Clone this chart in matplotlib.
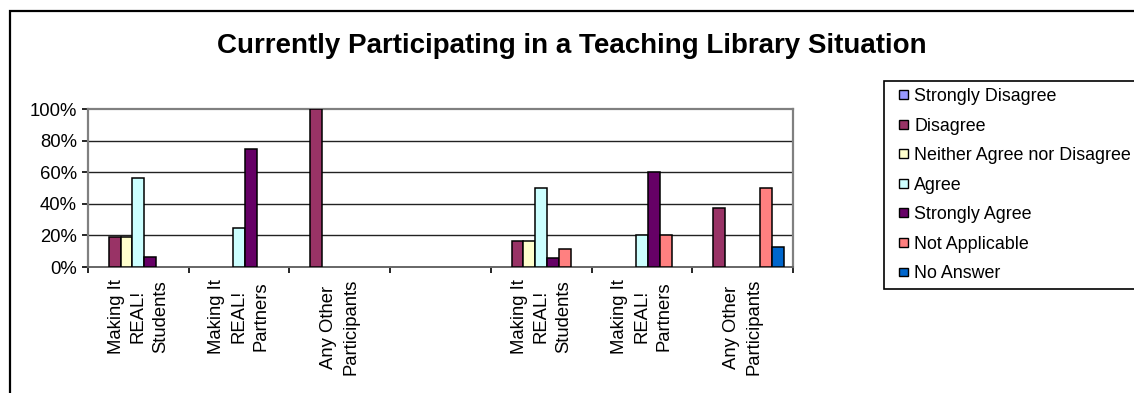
import matplotlib.pyplot as plt
import numpy as np
from matplotlib.patches import Rectangle, Patch
from matplotlib.legend_handler import HandlerPatch
from matplotlib.ticker import FixedLocator, PercentFormatter

plt.rcParams['font.family'] = ['Liberation Sans', 'DejaVu Sans']

categories = ["Making It\nREAL!\nStudents", "Making It\nREAL!\nPartners", "Any Other\nParticipants", "",
              "Making It\nREAL!\nStudents", "Making It\nREAL!\nPartners", "Any Other\nParticipants"]

# percentages per response
strongly_disagree = [0, 0, 0, 0, 0, 0, 0]
disagree = [18.75, 0, 100, 0, 16.67, 0, 37.5]
neither = [18.75, 0, 0, 0, 16.67, 0, 0]
agree = [56.25, 25, 0, 0, 50, 20, 0]
strongly_agree = [6.25, 75, 0, 0, 5.56, 60, 0]
not_applicable = [0, 0, 0, 0, 11.11, 20, 50]
no_answer = [0, 0, 0, 0, 0, 0, 12.5]

series = [strongly_disagree, disagree, neither, agree, strongly_agree, not_applicable, no_answer]
labels = ["Strongly Disagree", "Disagree", "Neither Agree nor Disagree", "Agree",
          "Strongly Agree", "Not Applicable", "No Answer"]
colors = ["#9999FF", "#993366", "#FFFFCC", "#CCFFFF", "#660066", "#FF8080", "#0066CC"]

W, H = 1134, 393
fig = plt.figure(figsize=(W / 100, H / 100), dpi=100)
ax = fig.add_axes([88 / W, 1 - 267 / H, (793 - 88) / W, (267 - 109) / H])

x = np.arange(len(categories))
w = 1 / 8.5
for i, (vals, col) in enumerate(zip(series, colors)):
    vals = np.asarray(vals, dtype=float)
    keep = vals > 0  # empty cells get no bar
    ax.bar(x[keep] + (i - 3) * w, vals[keep], width=w, color=col, edgecolor='black',
           linewidth=1.1, zorder=3)

ax.set_xlim(-0.5, len(categories) - 0.5)
ax.set_ylim(0, 100)
ax.set_yticks([0, 20, 40, 60, 80, 100])
ax.yaxis.set_major_formatter(PercentFormatter(decimals=0))
for yv in [20, 40, 60, 80]:
    ax.axhline(yv, color='#222222', linewidth=1, zorder=1)

ax.set_xticks(x)
ax.set_xticklabels(categories, rotation=90, ha='center', va='top',
                   multialignment='center', linespacing=1.4)
ax.xaxis.set_minor_locator(FixedLocator(np.arange(-0.5, len(categories), 1)))
ax.tick_params(axis='x', which='major', length=0, pad=8.5, labelsize=13.3)
ax.tick_params(axis='x', which='minor', length=4, width=1.2, direction='out', color='black')
ax.tick_params(axis='y', length=4, width=1.2, direction='out', pad=4, labelsize=13.3)

for side in ['top', 'right', 'left']:
    ax.spines[side].set_color('#808080')
    ax.spines[side].set_linewidth(1.6)
ax.spines['bottom'].set_color('#666666')
ax.spines['bottom'].set_linewidth(1.4)

fig.text(572 / W, 1 - 53 / H, "Currently Participating in a Teaching Library Situation",
         ha='center', va='baseline', fontsize=20, fontweight='bold')


def small_square(legend, orig_handle, xdescent, ydescent, width, height, fontsize):
    s = 6.3
    return Rectangle((-xdescent + width - s, -ydescent + (height - s) / 2), s, s)


handles = [Patch(facecolor=c, edgecolor='black', linewidth=1) for c in colors]
leg = fig.legend(handles, labels, loc='upper left', bbox_to_anchor=(884 / W, 1 - 81 / H),
                 frameon=True, fancybox=False, shadow=False, framealpha=1,
                 fontsize=12.9, handlelength=0.95, handleheight=0.5, handletextpad=0.35,
                 labelspacing=0.7, borderpad=0.39, borderaxespad=0,
                 handler_map={Patch: HandlerPatch(patch_func=small_square)})
leg.get_frame().set_edgecolor('black')
leg.get_frame().set_linewidth(1.2)

# outer chart border
fig.patches.append(Rectangle((10 / W, -0.1), 1.2, 1.1 - 11 / H, transform=fig.transFigure,
                             fill=False, edgecolor='black', linewidth=1.6))

fig.savefig("out.png", dpi=100)
